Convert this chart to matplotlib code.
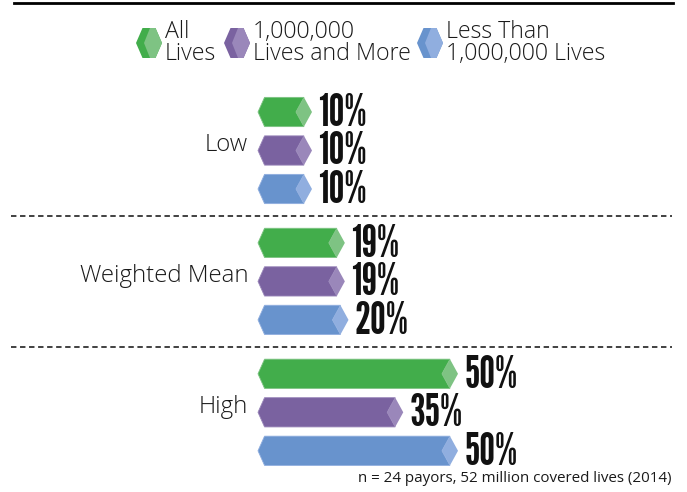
import matplotlib
matplotlib.use("Agg")
import matplotlib.pyplot as plt
from matplotlib.patches import Polygon
from matplotlib.lines import Line2D

# data
groups = ['Low', 'Weighted Mean', 'High']
series = ['All\nLives', '1,000,000\nLives and More', 'Less Than\n1,000,000 Lives']
all_lives = [10, 19, 50]
big_payors = [10, 19, 35]
small_payors = [10, 20, 50]
note = 'n = 24 payors, 52 million covered lives (2014)'

dark = ['#42ad4b', '#7a62a0', '#6893cd']
light = ['#7ec383', '#9a87ba', '#90aedf']

num_font = ['League Gothic', 'Oswald', 'DejaVu Sans']
txt_font = ['Open Sans', 'DejaVu Sans']

W, H = 687, 492
fig = plt.figure(figsize=(W / 100, H / 100), dpi=100)

# main axes: x in percent, y in bar slots
px_per_pct = 3.65
zero_px = 275.5
slot_px = 38.5
ax = fig.add_axes([0, 0, 1, 1])
ax.set_xlim(-zero_px / px_per_pct, (W - zero_px) / px_per_pct)
ax.set_ylim((H - 112) / slot_px, -112 / slot_px)
ax.axis('off')

gap = 3.4          # slot distance between groups
bar_h = 0.76
start = -4.8       # pointed left end of every bar
d_left = 1.8       # depth of left chevron (pct units)
f = 2.2            # half width of the light facet at the tip

values = [all_lives, big_payors, small_payors]
for g, name in enumerate(groups):
    for s in range(3):
        v = values[s][g]
        y = g * gap + s
        t, b = y - bar_h / 2, y + bar_h / 2
        body = [(start, y), (start + d_left, t), (v - f, t), (v - 2 * f, y),
                (v - f, b), (start + d_left, b)]
        tip = [(v - 2 * f, y), (v - f, t), (v, y), (v - f, b)]
        ax.add_patch(Polygon(body, closed=True, fc=dark[s], ec=light[s], lw=0.6))
        ax.add_patch(Polygon(tip, closed=True, fc=light[s], ec='none'))
        ax.text(v + 1.7, y + 0.36, f'{v}%', family=num_font, fontsize=32,
                ha='left', va='baseline', color='#111111')
    ax.text(-7.5, g * gap + 1 + 0.02, name, family=txt_font, fontsize=17.3,
            weight='light', ha='right', va='baseline', color='#1a1a1a')
    if g > 0:
        ax.axhline(g * gap - 0.7, xmin=11 / W, xmax=672 / W, color='#333333',
                   lw=1.3, ls=(0, (3, 2)))

# overlay in pixel coordinates for frame, legend and note
ov = fig.add_axes([0, 0, 1, 1], zorder=3)
ov.set_xlim(0, W)
ov.set_ylim(H, 0)
ov.axis('off')
ov.add_line(Line2D([14, 673], [2.5, 2.5], color='black', lw=2))

leg_x = [149, 237, 430]
for s, lab in enumerate(series):
    cx, cy = leg_x[s], 43
    hw, hh = 13, 15
    hexa = [(cx - hw, cy), (cx - hw / 2, cy - hh), (cx + hw / 2, cy - hh),
            (cx + hw, cy), (cx + hw / 2, cy + hh), (cx - hw / 2, cy + hh)]
    facet = [(cx + 1, cy - hh), (cx + hw / 2, cy - hh), (cx + hw, cy),
             (cx + hw / 2, cy + hh), (cx + 1, cy + hh), (cx - 5, cy)]
    ov.add_patch(Polygon(hexa, closed=True, fc=dark[s], ec='none'))
    ov.add_patch(Polygon(facet, closed=True, fc=light[s], ec='none'))
    ov.text(cx + hw + 3, cy, lab, family=txt_font, fontsize=16.7, weight='light',
            linespacing=0.85, ha='left', va='center', color='#1a1a1a')

ov.text(672, 478, note, family=txt_font, fontsize=10.9, ha='right', va='center',
        color='#1a1a1a')

fig.savefig('out.png', dpi=100)
